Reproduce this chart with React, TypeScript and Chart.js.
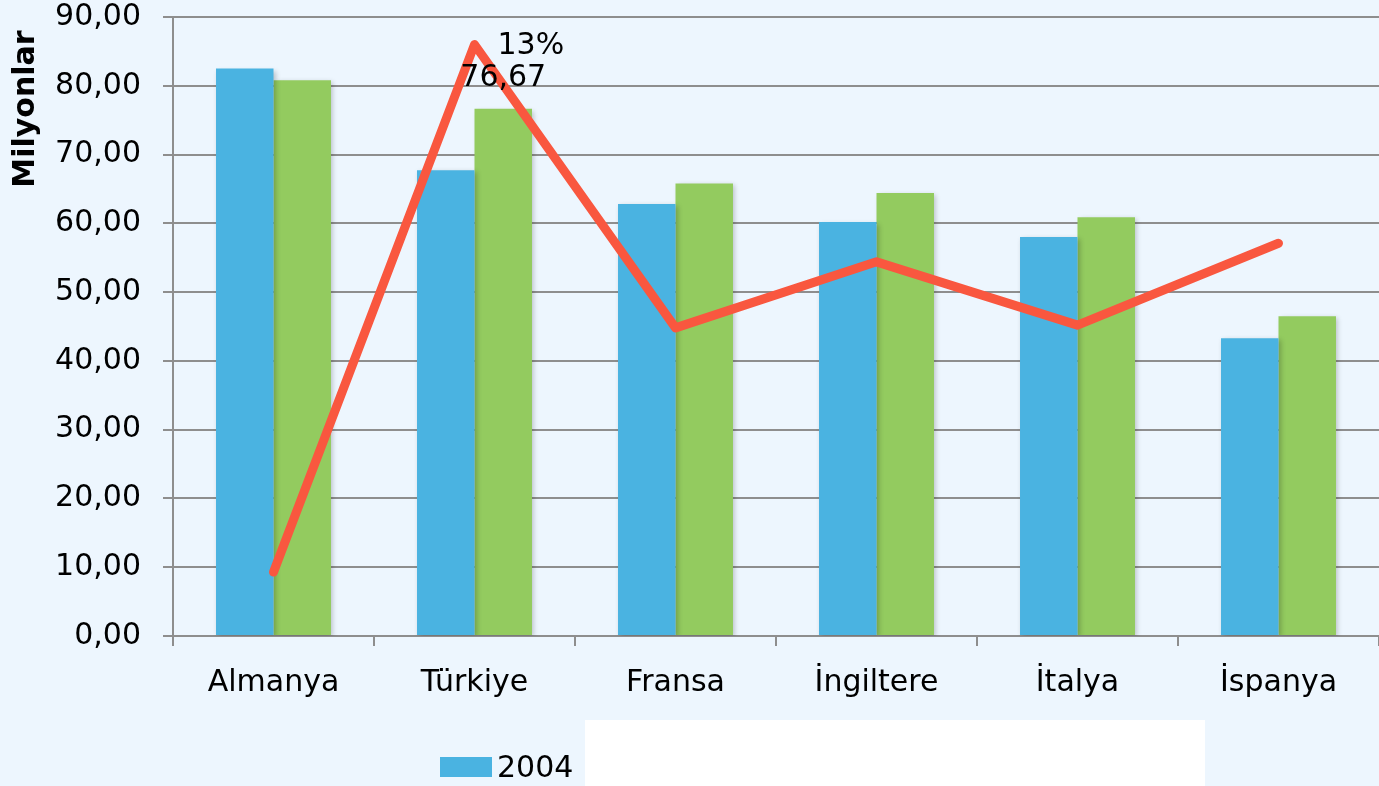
import { useEffect, useRef } from "react";
import { Chart, registerables } from "chart.js";

Chart.register(...registerables);

const categories = ["Almanya", "Türkiye", "Fransa", "İngiltere", "İtalya", "İspanya"];
const values2004 = [82.5, 67.7, 62.8, 60.2, 58.0, 43.3];
const values2005 = [80.8, 76.67, 65.8, 64.4, 60.9, 46.5];
const growthLine = [9.3, 86.0, 44.8, 54.4, 45.2, 57.1];
const seriesLabels = ["2004", "2005", "Artış"];
const pointLabelText = "13%";
const barLabelText = "76,67";
const yTitle = "Milyonlar";

const FONT = "'DejaVu Sans', Verdana, sans-serif";
const BLUE = "#4AB3E1";
const GREEN = "#93CB5F";
const RED = "#F9573F";
const BG = "#EDF6FE";

const shadowPlugin = {
  id: "barShadow",
  beforeDatasetDraw(chart: any, args: any) {
    if (args.meta.type !== "bar") return;
    const ctx = chart.ctx;
    ctx.save();
    ctx.shadowColor = "rgba(0,0,0,0.22)";
    ctx.shadowBlur = 5;
    ctx.shadowOffsetX = 2;
    ctx.shadowOffsetY = 2;
  },
  afterDatasetDraw(chart: any, args: any) {
    if (args.meta.type !== "bar") return;
    chart.ctx.restore();
  },
};

const overlayPlugin = {
  id: "overlay",
  afterDraw(chart: any) {
    const ctx = chart.ctx;
    ctx.save();
    ctx.fillStyle = "#000";
    ctx.font = `30px ${FONT}`;
    const lineMeta = chart.getDatasetMeta(2);
    const p = lineMeta.data[1];
    ctx.textAlign = "left";
    ctx.textBaseline = "middle";
    ctx.fillText(pointLabelText, p.x + 23, p.y + 2);
    const barMeta = chart.getDatasetMeta(1);
    const b = barMeta.data[1];
    ctx.textAlign = "center";
    ctx.fillText(barLabelText, b.x, b.y - 30);
    ctx.save();
    ctx.font = `bold 30px ${FONT}`;
    ctx.translate(26, 109);
    ctx.rotate(-Math.PI / 2);
    ctx.textAlign = "center";
    ctx.textBaseline = "middle";
    ctx.fillText(yTitle, 0, 0);
    ctx.restore();
    ctx.fillStyle = BLUE;
    ctx.fillRect(440, 757, 52, 20);
    ctx.fillStyle = "#000";
    ctx.font = `30px ${FONT}`;
    ctx.textAlign = "left";
    ctx.textBaseline = "middle";
    ctx.fillText(seriesLabels[0], 497, 769);
    ctx.fillStyle = "#FFFFFF";
    ctx.fillRect(585, 720, 620, 66);
    ctx.restore();
  },
};

export default function App() {
  const ref = useRef<HTMLCanvasElement | null>(null);
  useEffect(() => {
    document.body.style.margin = "0";
    if (!ref.current) return;
    const chart = new Chart(ref.current, {
      type: "bar",
      data: {
        labels: categories,
        datasets: [
          {
            type: "bar",
            label: seriesLabels[0],
            data: values2004,
            backgroundColor: BLUE,
            categoryPercentage: 0.572,
            barPercentage: 1,
            order: 2,
          },
          {
            type: "bar",
            label: seriesLabels[1],
            data: values2005,
            backgroundColor: GREEN,
            categoryPercentage: 0.572,
            barPercentage: 1,
            order: 2,
          },
          {
            type: "line",
            label: seriesLabels[2],
            data: growthLine,
            borderColor: RED,
            backgroundColor: RED,
            borderWidth: 9,
            pointRadius: 0,
            borderCapStyle: "round",
            borderJoinStyle: "round",
            tension: 0,
            order: 1,
          } as any,
        ],
      },
      options: {
        animation: false,
        responsive: false,
        maintainAspectRatio: false,
        layout: { padding: { top: 17, right: 0, bottom: 0, left: 0 } },
        plugins: {
          legend: { display: false },
          tooltip: { enabled: false },
        },
        scales: {
          x: {
            offset: true,
            grid: {
              display: true,
              drawOnChartArea: false,
              offset: true,
              tickLength: 10,
              color: "#8E8E8E",
              lineWidth: 2,
            },
            border: { display: true, color: "#8E8E8E", width: 2 },
            ticks: {
              color: "#000",
              font: { family: FONT, size: 30 },
              padding: 19,
              maxRotation: 0,
              autoSkip: false,
            },
            afterFit(scale: any) {
              scale.height = 150;
              scale.paddingLeft = 0;
              scale.paddingRight = 0;
            },
          },
          y: {
            min: 0,
            max: 90,
            ticks: {
              stepSize: 10,
              color: "#000",
              font: { family: FONT, size: 30 },
              padding: 22,
              callback: (v: any) => Number(v).toFixed(2).replace(".", ","),
            },
            grid: {
              color: "#8E8E8E",
              lineWidth: 2,
              tickLength: 10,
            },
            border: { display: true, color: "#8E8E8E", width: 2 },
            afterFit(scale: any) {
              scale.width = 173;
              scale.paddingTop = 0;
              scale.paddingBottom = 0;
            },
          },
        },
      },
      plugins: [shadowPlugin, overlayPlugin],
    });
    return () => chart.destroy();
  }, []);
  return (
    <div style={{ width: 1379, height: 786, background: BG }}>
      <canvas ref={ref} width={1379} height={786} style={{ display: "block" }} />
    </div>
  );
}
